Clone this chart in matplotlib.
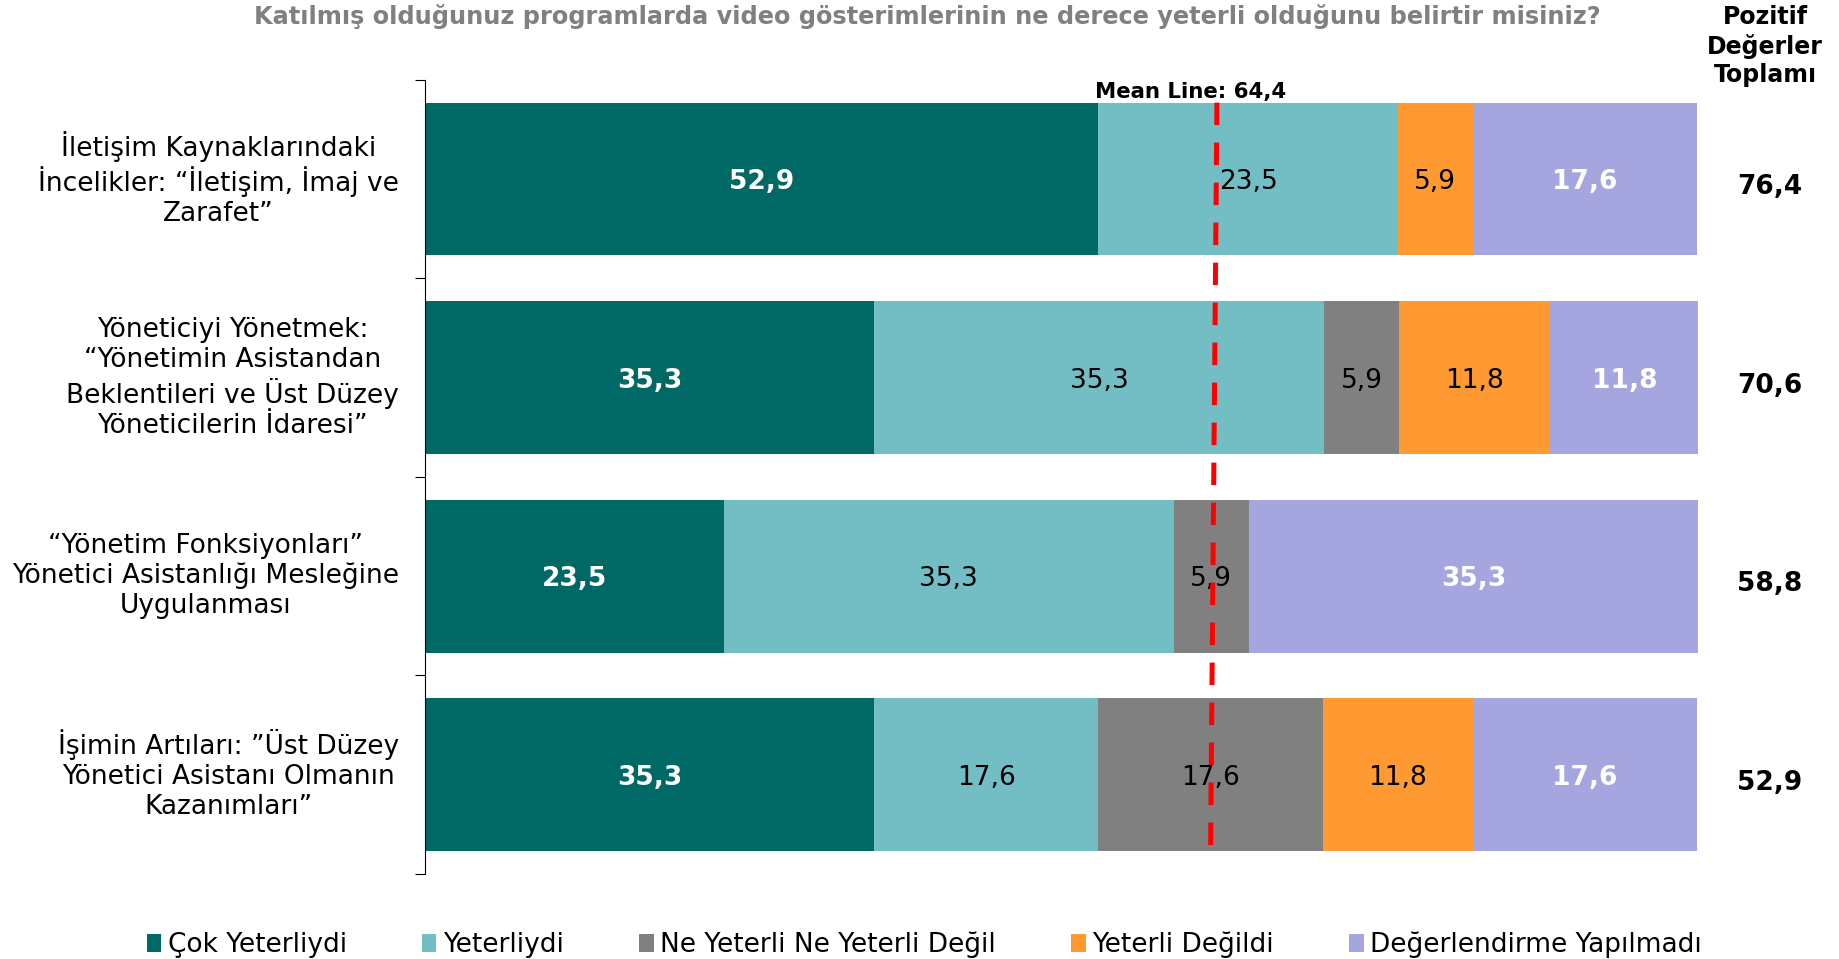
import matplotlib
matplotlib.use("Agg")
import matplotlib.pyplot as plt
import numpy as np

plt.rcParams['font.family'] = ['DejaVu Sans']

# veri
kategoriler = [
    "İletişim Kaynaklarındaki\nİncelikler: \u201cİletişim, İmaj ve\nZarafet\u201d",
    "Yöneticiyi Yönetmek:\n\u201cYönetimin Asistandan\nBeklentileri ve Üst Düzey\nYöneticilerin İdaresi\u201d",
    "\u201cYönetim Fonksiyonları\u201d\nYönetici Asistanlığı Mesleğine\nUygulanması",
    "İşimin Artıları: \u201dÜst Düzey\nYönetici Asistanı Olmanın\nKazanımları\u201d",
]
seriler = ["Çok Yeterliydi", "Yeterliydi", "Ne Yeterli Ne Yeterli Değil",
           "Yeterli Değildi", "Değerlendirme Yapılmadı"]
cok_yeterli = [52.9, 35.3, 23.5, 35.3]
yeterli = [23.5, 35.3, 35.3, 17.6]
ne_yeterli = [0.0, 5.9, 5.9, 17.6]
yeterli_degil = [5.9, 11.8, 0.0, 11.8]
degerlendirme_yok = [17.6, 11.8, 35.3, 17.6]
pozitif_toplam = [76.4, 70.6, 58.8, 52.9]
ortalama = 64.4
# resimde cizgi hafif egik duruyor (ust, alt)
ortalama_cizgi_x = [62.2, 61.7]

renkler = ["#006966", "#73BEC5", "#808080", "#FF9A33", "#A5A5E0"]
beyaz_etiket = [True, False, False, False, True]

def fmt(v):
    return f"{v:.1f}".replace('.', ',')

fig = plt.figure(figsize=(18.39, 9.59), dpi=100)
ax = fig.add_axes([0.231, 0.0887, 0.6925, 0.8281])

y = np.arange(len(kategoriler))
degerler = [cok_yeterli, yeterli, ne_yeterli, yeterli_degil, degerlendirme_yok]
sol = np.zeros(len(kategoriler))
for i, (seri, vals) in enumerate(zip(seriler, degerler)):
    vals = np.array(vals)
    ax.barh(y, vals, left=sol, height=0.77, color=renkler[i], label=seri)
    for j, v in enumerate(vals):
        if v > 0:
            if beyaz_etiket[i]:
                ax.text(sol[j] + v / 2, y[j] + 0.015, fmt(v), ha='center', va='center',
                        color='white', fontsize=19, fontweight='bold')
            else:
                ax.text(sol[j] + v / 2, y[j] + 0.015, fmt(v), ha='center', va='center',
                        color='black', fontsize=19)
    sol += vals

ax.set_xlim(0, 100)
ax.set_ylim(len(kategoriler) - 0.5, -0.5)

# ortalama cizgisi
ax.plot(ortalama_cizgi_x, [-0.385, 3.385], color='#FF0000',
        lw=3.6, linestyle=(0, (4.5, 3.5)), zorder=5)
ax.text(60.1, -0.39, f"Mean Line: {fmt(ortalama)}", ha='center',
        va='bottom', fontsize=15.3, fontweight='bold')

# eksenler
for s in ['top', 'right', 'bottom']:
    ax.spines[s].set_visible(False)
ax.spines['left'].set_color('black')
ax.set_xticks([])
ax.set_yticks(np.arange(-0.5, len(kategoriler), 1.0))
ax.set_yticklabels([])
ax.tick_params(axis='y', length=7, direction='out', color='black')

for j, k in enumerate(kategoriler):
    ax.text(-0.0204, y[j], k, transform=ax.get_yaxis_transform(), ha='right',
            va='center', multialignment='center', fontsize=19, linespacing=1.2)
    ax.text(1.056, y[j] + 0.04, fmt(pozitif_toplam[j]), transform=ax.get_yaxis_transform(),
            ha='center', va='center', fontsize=19, fontweight='bold')

fig.text(0.9598, 0.952, "Pozitif\nDeğerler\nToplamı", ha='center', va='center',
         fontsize=17, fontweight='bold', linespacing=1.22)
fig.text(0.504, 0.983, "Katılmış olduğunuz programlarda video gösterimlerinin ne derece yeterli olduğunu belirtir misiniz?",
         ha='center', va='center', fontsize=17.3, fontweight='bold', color='#808080')

fig.legend(loc='lower center', bbox_to_anchor=(0.5026, -0.024), ncol=5, frameon=False,
           fontsize=19, handlelength=0.55, handleheight=0.7, handletextpad=0.25,
           columnspacing=2.85)

fig.savefig("out.png", dpi=100)
